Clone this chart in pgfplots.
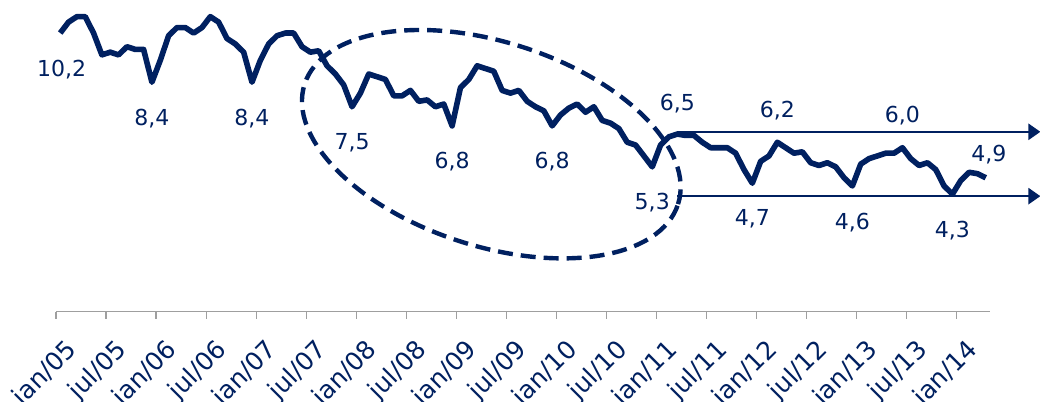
\documentclass[border=0pt]{standalone}
\usepackage{fontspec}
\setmainfont{DejaVu Sans}
\usepackage{pgfplots}
\usepackage{pgfplotstable}
\pgfplotsset{compat=1.18}
\usetikzlibrary{arrows.meta}
\definecolor{navy}{RGB}{0,32,96}

\pgfplotstableread{
i v
0 10.2
1 10.6
2 10.8
3 10.8
4 10.2
5 9.4
6 9.5
7 9.4
8 9.7
9 9.6
10 9.6
11 8.4
12 9.2
13 10.1
14 10.4
15 10.4
16 10.2
17 10.4
18 10.8
19 10.6
20 10.0
21 9.8
22 9.5
23 8.4
24 9.2
25 9.8
26 10.1
27 10.2
28 10.2
29 9.7
30 9.5
31 9.55
32 9.0
33 8.7
34 8.3
35 7.5
36 8.0
37 8.7
38 8.6
39 8.5
40 7.9
41 7.9
42 8.1
43 7.7
44 7.75
45 7.5
46 7.6
47 6.8
48 8.2
49 8.5
50 9.0
51 8.9
52 8.8
53 8.1
54 8.0
55 8.1
56 7.7
57 7.5
58 7.35
59 6.8
60 7.2
61 7.45
62 7.6
63 7.3
64 7.5
65 7.0
66 6.9
67 6.7
68 6.2
69 6.1
70 5.7
71 5.3
72 6.1
73 6.4
74 6.5
75 6.45
76 6.45
77 6.2
78 6.0
79 6.0
80 6.0
81 5.8
82 5.2
83 4.7
84 5.5
85 5.7
86 6.2
87 6.0
88 5.8
89 5.85
90 5.45
91 5.35
92 5.45
93 5.3
94 4.9
95 4.6
96 5.4
97 5.6
98 5.7
99 5.8
100 5.8
101 6.0
102 5.6
103 5.35
104 5.45
105 5.2
106 4.6
107 4.3
108 4.8
109 5.1
110 5.05
111 4.9
}\unemp

\begin{document}
\begin{tikzpicture}[lbl/.style={font=\fontsize{11}{13}\selectfont, text=navy, inner sep=0pt}]
\begin{axis}[
  x=4.16667pt, y=13.645pt,
  xmin=-0.5, xmax=111.5, ymin=0, ymax=11.41,
  hide y axis,
  axis x line*=bottom,
  x axis line style={-, draw=gray!75, line width=0.8pt},
  xtick={-0.5,5.5,...,107.5},
  xticklabels={jan/05,jul/05,jan/06,jul/06,jan/07,jul/07,jan/08,jul/08,jan/09,jul/09,jan/10,jul/10,jan/11,jul/11,jan/12,jul/12,jan/13,jul/13,jan/14},
  tick align=outside,
  major tick length=3.5pt,
  x tick style={draw=gray!75, line width=0.6pt},
  xticklabel style={font=\fontsize{12.5}{14}\selectfont, text=navy, inner sep=0pt, xshift=8.65pt, yshift=-13.65pt, rotate=45, anchor=east},
  clip=false,
]
\addplot[navy, line width=2.8pt, line join=round, mark=none] table[x=i,y=v]{\unemp};

\draw[navy, line width=2.2pt, dash pattern=on 7.5pt off 4pt] (axis cs:51.7,6.13) circle [x radius=98pt, y radius=51pt, rotate=-17.8];

\draw[navy, line width=1.3pt, -{Triangle[length=6pt,width=8pt]}] (axis cs:74,6.583) -- (axis cs:117.55,6.583);
\draw[navy, line width=1.3pt, -{Triangle[length=6pt,width=8pt]}] (axis cs:74,4.227) -- (axis cs:117.55,4.227);

\node[lbl, yshift=-18.5pt, xshift=0.75pt] at (axis cs:0,10.2) {10,2};
\node[lbl, yshift=-18pt] at (axis cs:11,8.4) {8,4};
\node[lbl, yshift=-18pt] at (axis cs:23,8.4) {8,4};
\node[lbl, yshift=-18pt] at (axis cs:35,7.5) {7,5};
\node[lbl, yshift=-18pt] at (axis cs:47,6.8) {6,8};
\node[lbl, yshift=-18pt] at (axis cs:59,6.8) {6,8};
\node[lbl, yshift=-18pt] at (axis cs:71,5.3) {5,3};
\node[lbl, yshift=15pt] at (axis cs:74,6.5) {6,5};
\node[lbl, yshift=16pt] at (axis cs:86,6.2) {6,2};
\node[lbl, yshift=16pt] at (axis cs:101,6.0) {6,0};
\node[lbl, yshift=11.5pt, xshift=1.5pt] at (axis cs:111,4.9) {4,9};
\node[lbl, yshift=-18pt] at (axis cs:83,4.7) {4,7};
\node[lbl, yshift=-18.5pt] at (axis cs:95,4.6) {4,6};
\node[lbl, yshift=-18pt] at (axis cs:107,4.3) {4,3};
\end{axis}
\pgfresetboundingbox
\path ([shift={(-28pt,-44.75pt)}]current axis.south west) rectangle ([xshift=25pt]current axis.north east);
\end{tikzpicture}
\end{document}
